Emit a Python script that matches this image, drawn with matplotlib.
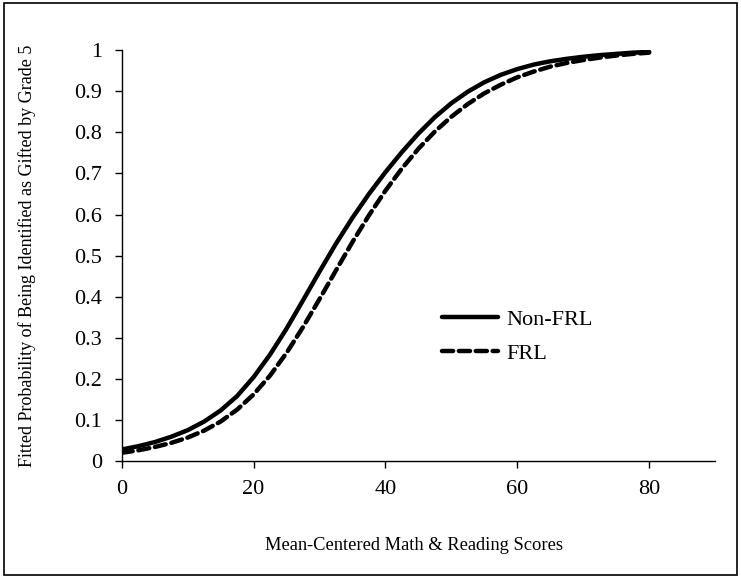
import numpy as np
import matplotlib.pyplot as plt
from matplotlib.patches import Rectangle

# values
scores = [0, 2.5, 5, 7.5, 10, 12.5, 15, 17.5, 20, 22.5, 25, 27.5, 30, 32.5, 35, 37.5,
          40, 42.5, 45, 47.5, 50, 52.5, 55, 57.5, 60, 62.5, 65, 67.5, 70, 72.5, 75, 77.5, 80]
non_frl = [0.028, 0.036, 0.046, 0.059, 0.075, 0.096, 0.123, 0.158, 0.204, 0.259, 0.322,
           0.391, 0.461, 0.529, 0.592, 0.650, 0.703, 0.752, 0.797, 0.837, 0.871, 0.899,
           0.922, 0.940, 0.954, 0.965, 0.973, 0.979, 0.984, 0.988, 0.991, 0.994, 0.996]
frl = [0.020, 0.026, 0.034, 0.044, 0.057, 0.074, 0.096, 0.125, 0.162, 0.208, 0.263,
       0.326, 0.394, 0.464, 0.533, 0.598, 0.658, 0.712, 0.760, 0.802, 0.838, 0.869,
       0.895, 0.916, 0.934, 0.948, 0.960, 0.969, 0.976, 0.982, 0.987, 0.991, 0.994]

x_ticks = [0, 20, 40, 60, 80]
y_ticks = [0, 0.1, 0.2, 0.3, 0.4, 0.5, 0.6, 0.7, 0.8, 0.9, 1]
y_ticklabels = ["0", "0.1", "0.2", "0.3", "0.4", "0.5", "0.6", "0.7", "0.8", "0.9", "1"]

plt.rcParams['font.family'] = 'Liberation Serif'

fig = plt.figure(figsize=(7.41, 5.77), dpi=100)
ax = fig.add_axes([0.1642, 0.201, 0.8008, 0.712])

ax.plot(scores, non_frl, color="black", lw=3.2, solid_capstyle="round",
        solid_joinstyle="round", label="Non-FRL")
ax.plot(scores, frl, color="black", lw=3.2, linestyle=(0, (2.5, 1.3)),
        dash_capstyle="round", label="FRL")

ax.set_xlim(0, 90)
ax.set_ylim(0, 1)
ax.set_xticks(x_ticks)
ax.set_yticks(y_ticks)
ax.set_yticklabels(y_ticklabels)
ax.tick_params(direction="out", length=5, width=1, labelsize=16, pad=9)

for side in ["top", "right"]:
    ax.spines[side].set_visible(False)
for side in ["left", "bottom"]:
    ax.spines[side].set_linewidth(1)

ax.set_xlabel("Mean-Centered Math & Reading Scores", fontsize=13.3)
ax.xaxis.set_label_coords(0.492, -0.185)
ax.set_ylabel("Fitted Probability of Being Identified as Gifted by Grade 5", fontsize=13)
ax.yaxis.set_label_coords(-0.145, 0.5)

ax.legend(loc="upper left", bbox_to_anchor=(0.525, 0.39), frameon=False, fontsize=16,
          handlelength=2.5, handletextpad=0.4, labelspacing=0.6, borderaxespad=0)

# thin frame around the whole picture
fig.patches.append(Rectangle((0.005, 0.004), 0.99, 0.991, transform=fig.transFigure,
                             fill=False, edgecolor="black", lw=1.2))

fig.savefig("out.png", dpi=100)
